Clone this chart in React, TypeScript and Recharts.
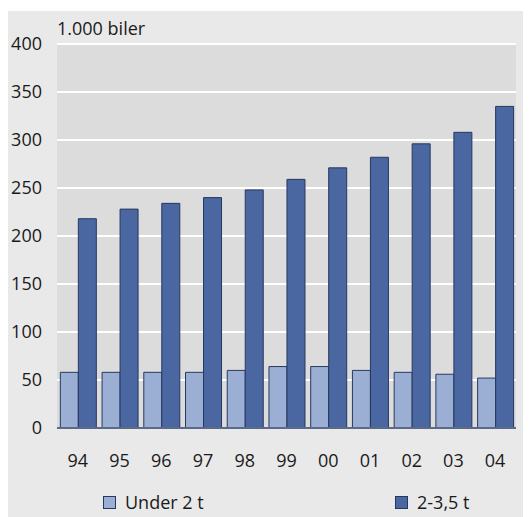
import { Bar, BarChart, CartesianGrid, XAxis, YAxis } from "recharts";

const years = ["94", "95", "96", "97", "98", "99", "00", "01", "02", "03", "04"];
const under2t = [58, 58, 58, 58, 60, 64, 64, 60, 58, 56, 52];
const from2to35t = [218, 228, 234, 240, 248, 259, 271, 282, 296, 308, 335];
const yTicks = [0, 50, 100, 150, 200, 250, 300, 350, 400];

const FONT = "'Open Sans', sans-serif";
const LIGHT = "#9bafd4";
const DARK = "#4a67a1";
const EDGE = "#26385f";

const chartData = years.map((year, i) => ({
  year,
  under: under2t[i],
  over: from2to35t[i],
}));

function LegendItem({ color, label, left }: { color: string; label: string; left: number }) {
  return (
    <div
      style={{
        position: "absolute",
        left,
        top: 480,
        display: "flex",
        alignItems: "center",
        fontFamily: FONT,
        fontSize: 18,
        color: "#1a1a1a",
        lineHeight: "22px",
      }}
    >
      <span
        style={{
          display: "inline-block",
          width: 11,
          height: 11,
          background: color,
          border: `1px solid ${EDGE}`,
          marginRight: 9,
        }}
      />
      {label}
    </div>
  );
}

export default function App() {
  return (
    <div
      style={{
        position: "relative",
        width: 523,
        height: 506,
        marginTop: 3,
        background: "#e9e9e9",
        overflow: "hidden",
      }}
    >
      <div
        style={{
          position: "absolute",
          left: 49,
          top: 6,
          fontFamily: FONT,
          fontSize: 18,
          lineHeight: "22px",
          color: "#1a1a1a",
        }}
      >
        1.000 biler
      </div>
      <BarChart
        width={523}
        height={506}
        data={chartData}
        margin={{ top: 33, right: 15, bottom: 29, left: 0 }}
        barCategoryGap="8%"
        barGap={0}
      >
        <CartesianGrid vertical={false} fill="#dcdcdc" stroke="#ffffff" strokeWidth={2} />
        <XAxis
          dataKey="year"
          height={60}
          tickSize={0}
          tickMargin={26}
          axisLine={{ stroke: "#5b6a88", strokeWidth: 2 }}
          tick={{ fontSize: 18, fontFamily: FONT, fill: "#1a1a1a" }}
        />
        <YAxis
          width={49}
          domain={[0, 400]}
          ticks={yTicks}
          interval={0}
          tickSize={0}
          tickMargin={15}
          axisLine={false}
          tick={{ fontSize: 18, fontFamily: FONT, fill: "#1a1a1a" }}
        />
        <Bar dataKey="under" name="Under 2 t" fill={LIGHT} stroke={EDGE} strokeWidth={1} isAnimationActive={false} />
        <Bar dataKey="over" name="2-3,5 t" fill={DARK} stroke={EDGE} strokeWidth={1} isAnimationActive={false} />
      </BarChart>
      <LegendItem color={LIGHT} label="Under 2 t" left={95} />
      <LegendItem color={DARK} label="2-3,5 t" left={387} />
    </div>
  );
}
